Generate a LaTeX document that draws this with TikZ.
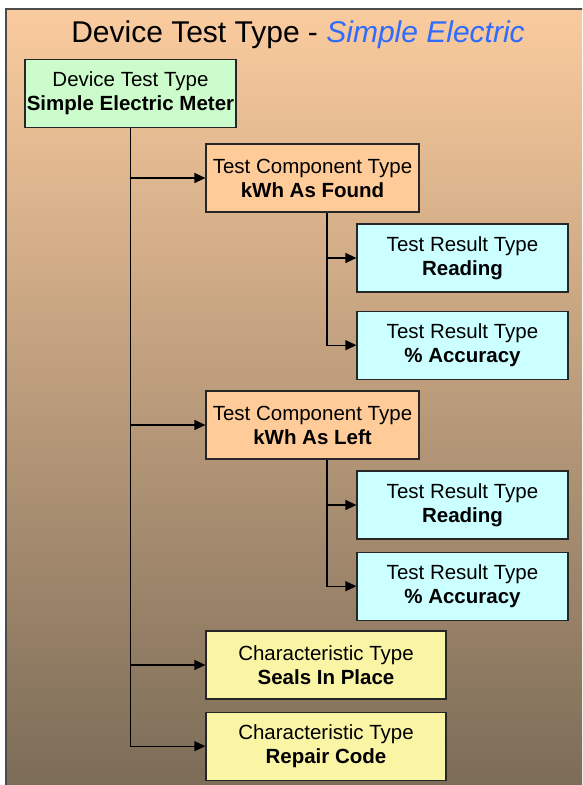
\documentclass[tikz,border=0pt]{standalone}
\usepackage{fontspec}
\setmainfont{Liberation Sans}
\usepackage{xcolor}
\usetikzlibrary{arrows.meta, positioning}

\definecolor{bgtop}{HTML}{FACB9E}
\definecolor{bgmid}{HTML}{B58F6C}
\definecolor{bgbot}{HTML}{7A6B57}
\definecolor{devgreen}{HTML}{CCFCCC}
\definecolor{comppeach}{HTML}{FFCC99}
\definecolor{rescyan}{HTML}{CCFFFF}
\definecolor{charyellow}{HTML}{FAF5A5}
\definecolor{titleblue}{HTML}{2F6BFF}

\begin{document}
\begin{tikzpicture}[
    x=1pt, y=1pt,
    font=\fontsize{20.5}{24}\selectfont,
    node distance=18pt,
    typebox/.style={rectangle, draw=black!85, line width=1.2pt, align=center,
                    minimum height=68pt, inner sep=0pt},
    devbox/.style={typebox, fill=devgreen, minimum width=211pt},
    compbox/.style={typebox, fill=comppeach, minimum width=213pt},
    resbox/.style={typebox, fill=rescyan, minimum width=211pt},
    charbox/.style={typebox, fill=charyellow, minimum width=240pt},
    arr/.style={-{Triangle[length=11pt, width=10pt]}, line width=1.2pt},
]
\useasboundingbox (0,0) rectangle (582,785);
\clip (0,0) rectangle (582,785);
\shade[top color=bgtop, middle color=bgmid, bottom color=bgbot] (6,-10) rectangle (600,776);
\draw[line width=1.5pt, black!70] (6,-10) -- (6,776) -- (600,776);

\node[anchor=base, font=\fontsize{30}{34}\selectfont]
    (title) at (298,742) {Device Test Type - \textcolor{titleblue}{\itshape Simple Electric}};

\node[devbox] (dev) at (130.5,691.5) {Device Test Type\\\textbf{Simple Electric Meter}};

\node[compbox] (kwhfound) at (312.5,607) {Test Component Type\\\textbf{kWh As Found}};
\node[resbox] (readfound) at (462.5,527) {Test Result Type\\\textbf{Reading}};
\node[resbox, below=of readfound] (accfound) {Test Result Type\\\textbf{\% Accuracy}};

\node[compbox] (kwhleft) at (312.5,360) {Test Component Type\\\textbf{kWh As Left}};
\node[resbox] (readleft) at (462.5,280) {Test Result Type\\\textbf{Reading}};
\node[resbox, below=12pt of readleft] (accleft) {Test Result Type\\\textbf{\% Accuracy}};

\node[charbox] (seals) at (326,120) {Characteristic Type\\\textbf{Seals In Place}};
\node[charbox, below=12pt of seals] (repair) {Characteristic Type\\\textbf{Repair Code}};

\draw[arr] (dev.south) |- (kwhfound.west);
\draw[arr] (dev.south) |- (kwhleft.west);
\draw[arr] (dev.south) |- (seals.west);
\draw[arr] (dev.south) |- (repair.west);

\draw[arr] ([xshift=14.5pt]kwhfound.south) |- (readfound.west);
\draw[arr] ([xshift=14.5pt]kwhfound.south) |- (accfound.west);
\draw[arr] ([xshift=14.5pt]kwhleft.south) |- (readleft.west);
\draw[arr] ([xshift=14.5pt]kwhleft.south) |- (accleft.west);
\end{tikzpicture}
\end{document}
